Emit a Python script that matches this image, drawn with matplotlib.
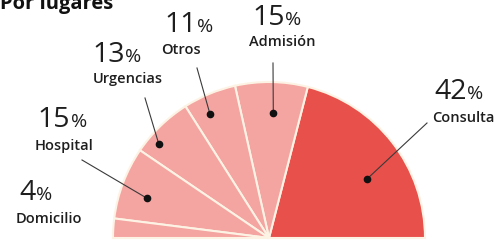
import matplotlib
matplotlib.use("Agg")
import matplotlib.pyplot as plt
import numpy as np

# data
places = ["Consulta", "Admisión", "Otros", "Urgencias", "Hospital", "Domicilio"]
shares = [42, 15, 11, 13, 15, 4]
title = "Por lugares"

# layout, all in pixels of the 499x243 picture
W, H = 499, 243
CX, CY, R = 269, 238, 156          # centre and radius of the half pie
pct_pos = [(434, 99), (252, 25), (164, 32), (92, 62), (37, 127), (19, 200)]
name_pos = [(463, 122), (282, 46), (181, 54), (128, 83), (64, 150), (49, 223)]
# where each leader starts (None = no leader) and where its dot sits in the wedge
leader_start = [(427, 123), (273, 63), (197, 68), (145, 98), (82, 160), None]
dot_frac = [0.41, 0.46, 0.65, 0.73, 0.60, None]
dot_rad = [0.73, 0.80, 0.88, 0.93, 0.82, None]

RED = "#e8504b"
PINK = "#f4a4a1"
EDGE = "#fdf3e4"
INK = "#1e1e1e"
FONT = ["Open Sans", "DejaVu Sans"]


def to_data(px, py):
    return (px - CX) / R, (CY - py) / R


fig = plt.figure(figsize=(W / 100, H / 100), dpi=100)
fig.patch.set_facecolor("white")
ax = fig.add_axes([0, 0, 1, 1])

colors = [RED] + [PINK] * (len(shares) - 1)
wedges, _ = ax.pie(shares + [sum(shares)], colors=colors + ["white"],
                   startangle=0, counterclock=True,
                   wedgeprops=dict(edgecolor=EDGE, linewidth=1.5))
wedges[-1].set_visible(False)

ax.set_xlim(-CX / R, (W - CX) / R)
ax.set_ylim(-(H - CY) / R, CY / R)
ax.set_aspect("equal")
ax.axis("off")

# dots and leader lines
for i, w in enumerate(wedges[:-1]):
    if leader_start[i] is None:
        continue
    ang = np.radians(w.theta1 + dot_frac[i] * (w.theta2 - w.theta1))
    dx, dy = dot_rad[i] * np.cos(ang), dot_rad[i] * np.sin(ang)
    sx, sy = to_data(*leader_start[i])
    ax.plot([sx, dx], [sy, dy], color="#3a3a3a", lw=0.8, zorder=3)
    ax.plot(dx, dy, "o", color="#111111", ms=4.5, zorder=4)

# labels
renderer = fig.canvas.get_renderer()
for i, name in enumerate(places):
    x, y = to_data(*pct_pos[i])
    t = ax.text(x, y, str(shares[i]), ha="left", va="baseline", fontsize=20.5,
                family=FONT, weight="normal", color=INK)
    bb = t.get_window_extent(renderer)
    px_right = bb.x1 / fig.dpi * 100
    ax.text((px_right + 1 - CX) / R, y, "%", ha="left", va="baseline",
            fontsize=14, family=FONT, weight="normal", color=INK)
    nx, ny = to_data(*name_pos[i])
    ax.text(nx, ny, name, ha="center", va="baseline", fontsize=10.5,
            family=FONT, weight="semibold", color=INK)

tx, ty = to_data(0, 9)
ax.text(tx, ty, title, ha="left", va="baseline", fontsize=14.5,
        family=FONT, weight="bold", color="#111111")

fig.savefig("out.png", dpi=100)
